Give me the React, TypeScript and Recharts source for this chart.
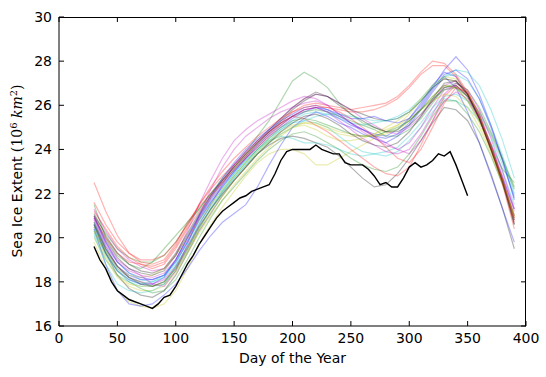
import React from 'react';
import { LineChart, Line, XAxis, YAxis } from 'recharts';

// day of year sampling for the coloured (past years) lines
const DAYS = [30, 40, 50, 60, 70, 80, 90, 100, 110, 120, 130, 140, 150, 160, 170, 180, 190, 200, 210, 220, 230, 240, 250, 260, 270, 280, 290, 300, 310, 320, 330, 340, 350, 360, 370, 380, 390];

// matplotlib classic colour cycle
const COLORS = ['#0000ff', '#008000', '#ff0000', '#00bfbf', '#bf00bf', '#bfbf00', '#000000'];

const YEARS: number[][] = [
  [20.5, 19.3, 18.5, 18.1, 17.9, 17.9, 18.2, 19.0, 20.0, 20.9, 21.7, 22.4, 23.0, 23.6, 24.1, 24.6, 25.0, 25.4, 25.7, 25.9, 25.7, 25.4, 25.1, 24.9, 24.7, 24.6, 24.9, 25.4, 26.1, 26.9, 27.5, 27.3, 26.5, 25.4, 24.0, 22.7, 21.3],
  [21.0, 20.2, 19.5, 19.1, 18.9, 18.9, 19.2, 19.8, 20.6, 21.3, 22.0, 22.7, 23.3, 23.9, 24.6, 25.3, 26.2, 27.1, 27.5, 27.2, 26.8, 26.1, 25.6, 25.2, 25.0, 24.8, 24.9, 25.3, 25.8, 26.4, 26.9, 26.8, 26.2, 25.3, 24.2, 23.1, 22.5],
  [22.5, 21.2, 20.1, 19.3, 18.9, 18.8, 19.0, 19.7, 20.7, 21.4, 22.0, 22.6, 23.2, 23.7, 24.2, 24.7, 25.2, 25.7, 26.0, 26.1, 26.0, 25.9, 25.8, 25.9, 26.0, 26.1, 26.4, 26.9, 27.5, 28.0, 27.9, 27.4, 26.6, 25.4, 24.0, 22.5, 20.8],
  [20.2, 19.0, 18.3, 18.0, 17.8, 17.8, 18.0, 18.7, 19.6, 20.5, 21.3, 22.0, 22.7, 23.3, 23.9, 24.4, 24.9, 25.2, 25.3, 25.2, 25.0, 24.6, 24.2, 23.9, 23.8, 23.7, 23.9, 24.4, 25.0, 25.7, 26.3, 26.2, 25.9, 25.3, 24.3, 23.0, 21.5],
  [21.3, 20.3, 19.5, 19.0, 18.7, 18.5, 18.6, 19.2, 20.3, 21.5, 22.6, 23.6, 24.4, 24.9, 25.3, 25.6, 25.9, 26.2, 26.4, 26.3, 26.0, 25.6, 25.2, 24.8, 24.5, 24.2, 24.0, 24.3, 25.0, 25.9, 26.7, 26.9, 26.4, 25.5, 24.2, 22.8, 21.2],
  [19.8, 18.6, 17.6, 17.1, 16.9, 16.8, 17.0, 17.6, 18.6, 19.7, 20.6, 21.4, 22.1, 22.8, 23.4, 23.8, 24.0, 24.0, 23.8, 23.3, 23.3, 23.6, 23.9, 24.2, 24.5, 24.8, 25.1, 25.6, 26.2, 26.8, 27.2, 27.1, 26.4, 25.3, 24.0, 22.6, 21.0],
  [20.6, 19.3, 18.3, 17.7, 17.4, 17.3, 17.6, 18.3, 19.3, 20.3, 21.1, 21.9, 22.6, 23.2, 23.8, 24.2, 24.5, 24.6, 24.5, 24.3, 24.1, 23.7, 23.2, 22.7, 22.3, 22.4, 22.9, 23.6, 24.4, 25.2, 25.9, 25.8, 25.3, 24.3, 22.9, 21.3, 19.5],
  [20.4, 18.8, 17.6, 17.0, 16.9, 17.0, 17.4, 17.9, 18.6, 19.4, 20.1, 20.7, 21.1, 21.5, 22.3, 23.3, 24.2, 25.0, 25.4, 25.7, 25.5, 25.2, 25.0, 24.7, 24.5, 24.3, 24.6, 25.1, 25.8, 26.6, 27.3, 26.8, 25.7, 24.3, 22.8, 21.3, 19.8],
  [21.5, 20.0, 19.2, 18.8, 18.6, 18.9, 19.5, 20.1, 20.7, 21.3, 22.0, 22.6, 23.2, 23.8, 24.3, 24.8, 25.2, 25.5, 25.7, 25.8, 25.7, 25.5, 25.3, 25.1, 24.9, 24.6, 24.6, 24.9, 25.4, 26.1, 26.8, 27.0, 26.7, 25.9, 24.8, 23.6, 22.3],
  [20.9, 20.0, 19.3, 18.9, 18.8, 18.7, 18.9, 19.6, 20.5, 21.5, 22.2, 22.8, 23.3, 23.8, 24.3, 24.8, 25.2, 25.5, 25.4, 25.1, 24.8, 24.4, 24.0, 23.6, 23.2, 22.9, 22.8, 23.2, 24.2, 25.3, 26.4, 26.9, 26.5, 25.5, 24.1, 22.6, 20.9],
  [20.7, 19.6, 18.9, 18.4, 18.1, 18.0, 18.2, 18.8, 19.8, 20.8, 21.6, 22.3, 22.9, 23.5, 24.0, 24.5, 24.9, 25.3, 25.6, 25.7, 25.6, 25.4, 25.2, 25.1, 25.2, 25.3, 25.5, 25.8, 26.3, 26.9, 27.3, 27.4, 27.1, 26.3, 25.1, 23.7, 22.0],
  [20.8, 19.6, 18.7, 18.2, 18.0, 17.9, 18.1, 18.7, 19.6, 20.6, 21.5, 22.4, 23.3, 23.9, 24.4, 24.9, 25.4, 25.9, 26.3, 26.5, 26.4, 26.1, 25.8, 25.4, 25.1, 24.8, 24.7, 25.0, 25.5, 26.2, 26.9, 27.1, 26.6, 25.6, 24.2, 22.7, 21.0],
  [20.0, 19.0, 18.2, 17.8, 17.6, 17.6, 17.8, 18.4, 19.3, 20.2, 21.0, 21.7, 22.4, 23.0, 23.6, 24.1, 24.6, 25.0, 25.2, 25.1, 24.9, 24.7, 24.6, 24.6, 24.7, 24.9, 25.1, 25.4, 25.8, 26.2, 26.5, 26.4, 25.9, 25.0, 23.8, 22.4, 20.9],
  [21.1, 20.1, 19.3, 18.8, 18.5, 18.4, 18.6, 19.3, 20.2, 21.1, 21.9, 22.6, 23.2, 23.8, 24.4, 24.9, 25.4, 25.9, 26.3, 26.6, 26.4, 26.0, 25.6, 25.3, 25.0, 24.8, 24.8, 25.1, 25.6, 26.2, 26.8, 26.9, 26.4, 25.4, 24.0, 22.5, 20.6],
  [20.6, 19.5, 18.7, 18.3, 18.1, 18.1, 18.3, 18.9, 19.8, 20.8, 21.6, 22.3, 23.0, 23.6, 24.2, 24.7, 25.1, 25.5, 25.8, 25.9, 25.8, 25.6, 25.4, 25.4, 25.5, 25.3, 25.2, 25.4, 26.0, 26.8, 27.6, 28.2, 27.6, 26.5, 25.1, 23.5, 21.8],
  [20.3, 19.3, 18.5, 18.0, 17.7, 17.5, 17.6, 18.1, 19.0, 20.0, 20.9, 21.7, 22.3, 22.9, 23.5, 24.0, 24.4, 24.7, 24.8, 24.6, 24.3, 24.0, 23.6, 23.3, 23.1, 23.0, 23.2, 23.8, 24.6, 25.5, 26.2, 26.2, 25.6, 24.8, 23.7, 22.4, 21.0],
  [21.2, 20.4, 19.6, 19.1, 18.8, 18.6, 18.8, 19.5, 20.4, 21.2, 21.9, 22.5, 23.1, 23.6, 24.1, 24.6, 25.1, 25.5, 25.8, 25.9, 25.9, 25.8, 25.7, 25.7, 25.8, 26.0, 26.3, 26.8, 27.4, 27.8, 27.8, 27.3, 26.5, 25.4, 24.0, 22.4, 20.4],
  [20.1, 18.8, 17.9, 17.6, 17.5, 17.6, 17.9, 18.7, 19.6, 20.6, 21.5, 22.2, 22.9, 23.5, 24.0, 24.4, 24.6, 24.5, 24.3, 24.3, 24.2, 24.0, 23.8, 23.7, 23.8, 23.9, 24.1, 24.6, 25.2, 25.9, 26.4, 26.5, 26.2, 25.6, 24.6, 23.3, 21.9],
  [21.0, 19.8, 19.0, 18.6, 18.3, 17.9, 17.8, 18.5, 19.7, 21.0, 22.2, 23.2, 24.0, 24.6, 25.0, 25.4, 25.7, 25.9, 26.1, 26.2, 26.0, 25.6, 25.2, 24.9, 24.6, 24.3, 24.0, 23.8, 24.4, 25.3, 26.2, 26.6, 26.3, 25.4, 24.1, 22.6, 20.9],
  [20.5, 19.4, 18.7, 18.3, 18.2, 18.3, 18.6, 19.2, 20.0, 20.8, 21.5, 22.2, 22.8, 23.4, 23.9, 24.4, 24.8, 25.1, 25.2, 25.2, 25.0, 24.8, 24.7, 24.6, 24.6, 24.7, 24.9, 25.3, 25.8, 26.4, 26.9, 26.8, 26.2, 25.2, 23.9, 22.5, 21.0],
  [21.0, 19.9, 19.1, 18.6, 18.4, 18.3, 18.5, 19.2, 20.1, 21.0, 21.8, 22.5, 23.1, 23.7, 24.3, 24.8, 25.3, 25.8, 26.2, 26.5, 26.4, 26.1, 25.8, 25.6, 25.4, 25.3, 25.4, 25.7, 26.2, 26.8, 27.2, 27.1, 26.5, 25.5, 24.1, 22.6, 20.8],
  [20.9, 19.8, 18.9, 18.4, 18.2, 18.1, 18.3, 19.0, 20.0, 21.0, 21.9, 22.7, 23.4, 24.0, 24.5, 24.9, 25.3, 25.6, 25.9, 26.0, 25.8, 25.5, 25.2, 24.9, 24.6, 24.5, 24.7, 25.2, 25.9, 26.7, 27.4, 27.6, 27.2, 26.3, 25.0, 23.5, 21.7],
  [20.6, 19.4, 18.6, 18.2, 18.0, 17.8, 17.9, 18.5, 19.4, 20.4, 21.3, 22.1, 22.8, 23.4, 24.0, 24.5, 25.0, 25.3, 25.4, 25.3, 25.1, 24.9, 24.7, 24.6, 24.6, 24.8, 25.0, 25.3, 25.8, 26.3, 26.7, 26.8, 26.4, 25.7, 24.7, 23.5, 22.2],
  [21.6, 20.6, 19.8, 19.3, 19.0, 19.0, 19.2, 19.8, 20.6, 21.5, 22.3, 23.0, 23.6, 24.1, 24.6, 25.0, 25.4, 25.7, 25.9, 26.0, 25.9, 25.7, 25.4, 25.0, 24.6, 24.1, 23.6, 23.4, 24.0, 25.0, 26.1, 26.8, 26.6, 25.6, 24.2, 22.6, 20.7],
  [20.4, 19.2, 18.5, 18.1, 17.9, 18.0, 18.3, 18.9, 19.8, 20.7, 21.4, 22.1, 22.7, 23.3, 23.8, 24.3, 24.7, 25.0, 25.3, 25.5, 25.6, 25.6, 25.5, 25.4, 25.3, 25.3, 25.4, 25.7, 26.2, 26.8, 27.3, 27.6, 27.5, 26.9, 25.8, 24.4, 22.7],
  [20.9, 19.7, 18.9, 18.5, 18.3, 18.2, 18.4, 19.0, 19.9, 20.9, 21.8, 22.6, 23.3, 23.9, 24.4, 24.8, 25.2, 25.5, 25.8, 25.9, 25.7, 25.3, 24.9, 24.5, 24.2, 23.9, 23.8, 24.0, 24.7, 25.6, 26.5, 27.0, 26.7, 25.8, 24.5, 23.0, 21.3],
  [20.3, 19.1, 18.3, 17.9, 17.8, 17.8, 18.0, 18.6, 19.5, 20.4, 21.2, 21.9, 22.6, 23.2, 23.8, 24.3, 24.7, 25.0, 25.1, 24.9, 24.6, 24.4, 24.4, 24.5, 24.7, 25.0, 25.3, 25.7, 26.3, 26.9, 27.3, 27.2, 26.6, 25.5, 24.1, 22.6, 20.9],
  [20.7, 19.5, 18.7, 18.2, 17.9, 17.8, 18.0, 18.6, 19.5, 20.5, 21.3, 22.0, 22.6, 23.2, 23.8, 24.3, 24.8, 25.2, 25.5, 25.6, 25.4, 25.1, 24.7, 24.4, 24.2, 24.1, 24.3, 24.8, 25.5, 26.3, 27.0, 27.1, 26.5, 25.4, 24.0, 22.5, 20.6],
];

// current year (black line), every 5 days
const CURRENT_DAYS = [30, 35, 40, 45, 50, 55, 60, 65, 70, 75, 80, 85, 90, 95, 100, 105, 110, 115, 120, 125, 130, 135, 140, 145, 150, 155, 160, 165, 170, 175, 180, 185, 190, 195, 200, 205, 210, 215, 220, 225, 230, 235, 240, 245, 250, 255, 260, 265, 270, 275, 280, 285, 290, 295, 300, 305, 310, 315, 320, 325, 330, 335, 340, 345, 350];
const CURRENT = [19.6, 19.0, 18.6, 18.0, 17.6, 17.4, 17.2, 17.1, 17.0, 16.9, 16.8, 17.0, 17.3, 17.4, 17.8, 18.3, 18.8, 19.2, 19.7, 20.1, 20.5, 20.9, 21.2, 21.4, 21.6, 21.8, 21.9, 22.1, 22.2, 22.3, 22.4, 22.9, 23.5, 23.9, 24.0, 24.0, 24.0, 24.0, 24.2, 24.0, 23.9, 23.8, 23.8, 23.4, 23.3, 23.3, 23.3, 23.1, 22.8, 22.4, 22.5, 22.3, 22.3, 22.7, 23.2, 23.4, 23.2, 23.3, 23.5, 23.8, 23.7, 23.9, 23.3, 22.6, 21.9];

const X_TICKS = [0, 50, 100, 150, 200, 250, 300, 350, 400];
const Y_TICKS = [16, 18, 20, 22, 24, 26, 28, 30];

const FONT = 'DejaVu Sans';
const W = 546;
const H = 377;
const MARGIN = { top: 17, right: 20, bottom: 0, left: 0 };
const Y_AXIS_W = 59;
const X_AXIS_H = 51;
const PLOT_TOP = MARGIN.top;
const PLOT_RIGHT = W - MARGIN.right;

const toPoints = (days: number[], vals: number[]) => days.map((d, i) => ({ day: d, v: vals[i] }));

// bottom tick: inward tick on bottom and top spines, plus the label
const BottomTick = (props: any) => {
  const { x, y, payload } = props;
  return (
    <g>
      <line x1={x} x2={x} y1={y} y2={y - 5} stroke="#000" />
      <line x1={x} x2={x} y1={PLOT_TOP} y2={PLOT_TOP + 5} stroke="#000" />
      <text x={x} y={y + 17} textAnchor="middle" fontSize={14} fontFamily={FONT} fill="#000">{payload.value}</text>
    </g>
  );
};

// left tick: inward tick on left and right spines, plus the label
const LeftTick = (props: any) => {
  const { x, y, payload } = props;
  return (
    <g>
      <line x1={x} x2={x + 5} y1={y} y2={y} stroke="#000" />
      <line x1={PLOT_RIGHT} x2={PLOT_RIGHT - 5} y1={y} y2={y} stroke="#000" />
      <text x={x - 7} y={y + 5} textAnchor="end" fontSize={14} fontFamily={FONT} fill="#000">{payload.value}</text>
    </g>
  );
};

const XLabel = (props: any) => {
  const { x, y, width } = props.viewBox;
  return (
    <text x={x + width / 2} y={y + 37} textAnchor="middle" fontSize={14} fontFamily={FONT} fill="#000">Day of the Year</text>
  );
};

const YLabel = () => (
  <text transform="rotate(-90, 22, 171)" x={22} y={171} textAnchor="middle" fontSize={14} fontFamily={FONT} fill="#000">
    Sea Ice Extent <tspan fontFamily="DejaVu Serif">(10</tspan>
    <tspan fontFamily="DejaVu Serif" fontSize={10} dy={-5}>6</tspan>
    <tspan fontFamily="DejaVu Serif" fontStyle="italic" dy={5}> km</tspan>
    <tspan fontFamily="DejaVu Serif" fontSize={10} dy={-5}>2</tspan>
    <tspan fontFamily="DejaVu Serif" dy={5}>)</tspan>
  </text>
);

export default function App() {
  return (
    <div style={{ position: 'absolute', left: 0, top: 0, width: W, height: H, background: '#fff' }}>
      <LineChart width={W} height={H} margin={MARGIN}>
        <XAxis
          dataKey="day"
          type="number"
          domain={[0, 400]}
          ticks={X_TICKS}
          tickSize={0}
          tickMargin={0}
          height={X_AXIS_H}
          stroke="#000"
          tick={<BottomTick />}
          allowDataOverflow
          label={{ content: (p: any) => <XLabel {...p} /> }}
        />
        <YAxis
          type="number"
          domain={[16, 30]}
          ticks={Y_TICKS}
          tickSize={0}
          tickMargin={0}
          width={Y_AXIS_W}
          stroke="#000"
          tick={<LeftTick />}
          allowDataOverflow
          label={{ content: () => <YLabel /> }}
        />
        {YEARS.map((vals, i) => (
          <Line
            key={i}
            data={toPoints(DAYS, vals)}
            dataKey="v"
            type="linear"
            stroke={COLORS[i % COLORS.length]}
            strokeOpacity={0.3}
            strokeWidth={1.2}
            dot={false}
            activeDot={false}
            isAnimationActive={false}
          />
        ))}
        <Line
          data={toPoints(CURRENT_DAYS, CURRENT)}
          dataKey="v"
          type="linear"
          stroke="#000"
          strokeWidth={1.4}
          dot={false}
          activeDot={false}
          isAnimationActive={false}
        />
      </LineChart>
      {/* axes frame (matplotlib box) */}
      <div
        style={{
          position: 'absolute',
          left: Y_AXIS_W,
          top: PLOT_TOP,
          width: PLOT_RIGHT - Y_AXIS_W,
          height: H - X_AXIS_H - PLOT_TOP,
          borderTop: '1px solid #000',
          borderRight: '1px solid #000',
          boxSizing: 'border-box',
          pointerEvents: 'none',
        }}
      />
    </div>
  );
}
